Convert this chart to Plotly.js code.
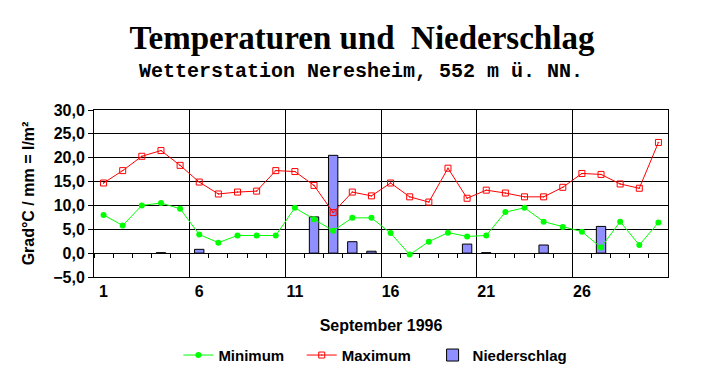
<!DOCTYPE html>
<html><head><meta charset="utf-8">
<script src="https://cdn.plot.ly/plotly-3.0.1.min.js"></script>
<style>body{margin:0;background:#fff}#c{width:725px;height:384px}</style>
</head><body><div id="c"></div>
<script>
var days = [];
for (var i = 1; i <= 30; i++) days.push(i);
var tminVals = [8.0,5.8,10.0,10.5,9.3,3.9,2.2,3.7,3.7,3.7,9.5,7.1,4.7,7.4,7.4,4.2,-0.3,2.4,4.3,3.5,3.7,8.6,9.5,6.6,5.5,4.5,1.2,6.6,1.7,6.4];
var tmaxVals = [14.7,17.3,20.3,21.5,18.4,14.9,12.4,12.8,13.0,17.3,17.1,14.2,8.5,12.8,12.0,14.7,11.8,10.7,17.8,11.5,13.2,12.6,11.8,11.8,13.8,16.7,16.5,14.5,13.6,23.2];
// null = no precipitation recorded that day
var precipVals = [null,null,null,0.1,null,0.8,null,null,null,null,null,7.6,20.5,2.4,0.4,null,null,null,null,1.9,0.1,null,null,1.7,null,null,5.6,null,null,null];
var tickDays = [1,6,11,16,21,26];
var tickLabels = ['1','6','11','16','21','26'];
var seriesNames = ['Minimum', 'Maximum', 'Niederschlag'];

var F = 'Liberation Sans, Arial, sans-serif';
var NB = '\u00a0';
var data = [
  {type:'scatter', mode:'lines+markers', name:seriesNames[0] + NB+NB+NB, x:days, y:tminVals,
   line:{color:'#00ff00', width:1}, marker:{symbol:'circle', size:6, color:'#00ff00'}},
  {type:'scatter', mode:'lines+markers', name:seriesNames[1] + NB+NB+NB+NB, x:days, y:tmaxVals,
   line:{color:'#ff0000', width:1}, marker:{symbol:'square-open-dot', size:6, color:'#ff0000', line:{width:1, color:'#ff0000'}}},
  {type:'bar', name:seriesNames[2], x:days, y:precipVals, width:0.49,
   marker:{color:'#ffffff', line:{color:'#000000', width:1},
     pattern:{shape:'.', fgcolor:'#0000ff', bgcolor:'#ffffff', size:2, solidity:0.5}}},
  {type:'scatter', mode:'lines', x:[], y:[], xaxis:'x2', showlegend:false, hoverinfo:'skip'}
];
var layout = {
  width:725, height:384,
  margin:{l:94, r:57, t:110, b:105},
  paper_bgcolor:'#ffffff', plot_bgcolor:'#ffffff',
  separators:',.',
  font:{family:F, size:16, color:'#000', weight:'bold'},
  showlegend:true,
  legend:{orientation:'h', x:0.147, xanchor:'left', y:-0.37, yanchor:'top',
    font:{family:F, size:15, weight:'bold'},
    bgcolor:'rgba(0,0,0,0)', traceorder:'normal'},
  xaxis:{range:[0.5,30.5], tickvals:tickDays, ticktext:tickLabels, ticks:'',
    showgrid:false, zeroline:false, showline:true, mirror:true, linecolor:'#000', linewidth:1,
    tickfont:{family:F, size:16, weight:'bold'},
    minor:{tick0:0.5, dtick:5, showgrid:true, gridcolor:'#000', gridwidth:1, ticks:''},
    title:{text:'September 1996', font:{family:F, size:16, weight:'bold'}, standoff:20}},
  xaxis2:{range:[0.5,30.5], overlaying:'x', anchor:'free', position:5/35, side:'bottom',
    tick0:0.5, dtick:1, ticks:'outside', ticklen:4, tickwidth:1, tickcolor:'#000',
    showticklabels:false, showgrid:false, zeroline:false, showline:false},
  yaxis:{range:[-5,30], dtick:5, tick0:0, tickformat:'.1f', ticks:'outside', ticklen:5,
    tickcolor:'#000', showgrid:true, gridcolor:'#000', gridwidth:1, zeroline:true, zerolinecolor:'#000',
    zerolinewidth:1, showline:true, mirror:true, linecolor:'#000', linewidth:1,
    tickfont:{family:F, size:16, weight:'bold'},
    title:{text:'Grad°C / mm = l/m²', font:{family:F, size:16, weight:'bold'}, standoff:14}},
  title:{text:'Temperaturen und\u00a0 Niederschlag', x:362/725, xref:'container', xanchor:'center',
    y:1-37/384, yref:'container', yanchor:'middle',
    font:{family:'Liberation Serif, Times New Roman, serif', size:33, weight:'bold', color:'#000'}},
  annotations:[{text:'Wetterstation Neresheim, 552 m ü. NN.', xref:'paper', yref:'paper',
    x:(361-94)/574, y:1+ (110-71)/169, xanchor:'center', yanchor:'middle', showarrow:false,
    font:{family:'Liberation Mono, Courier New, monospace', size:20, weight:'bold', color:'#000'}}]
};
Plotly.newPlot('c', data, layout, {staticPlot:true});
</script></body></html>
